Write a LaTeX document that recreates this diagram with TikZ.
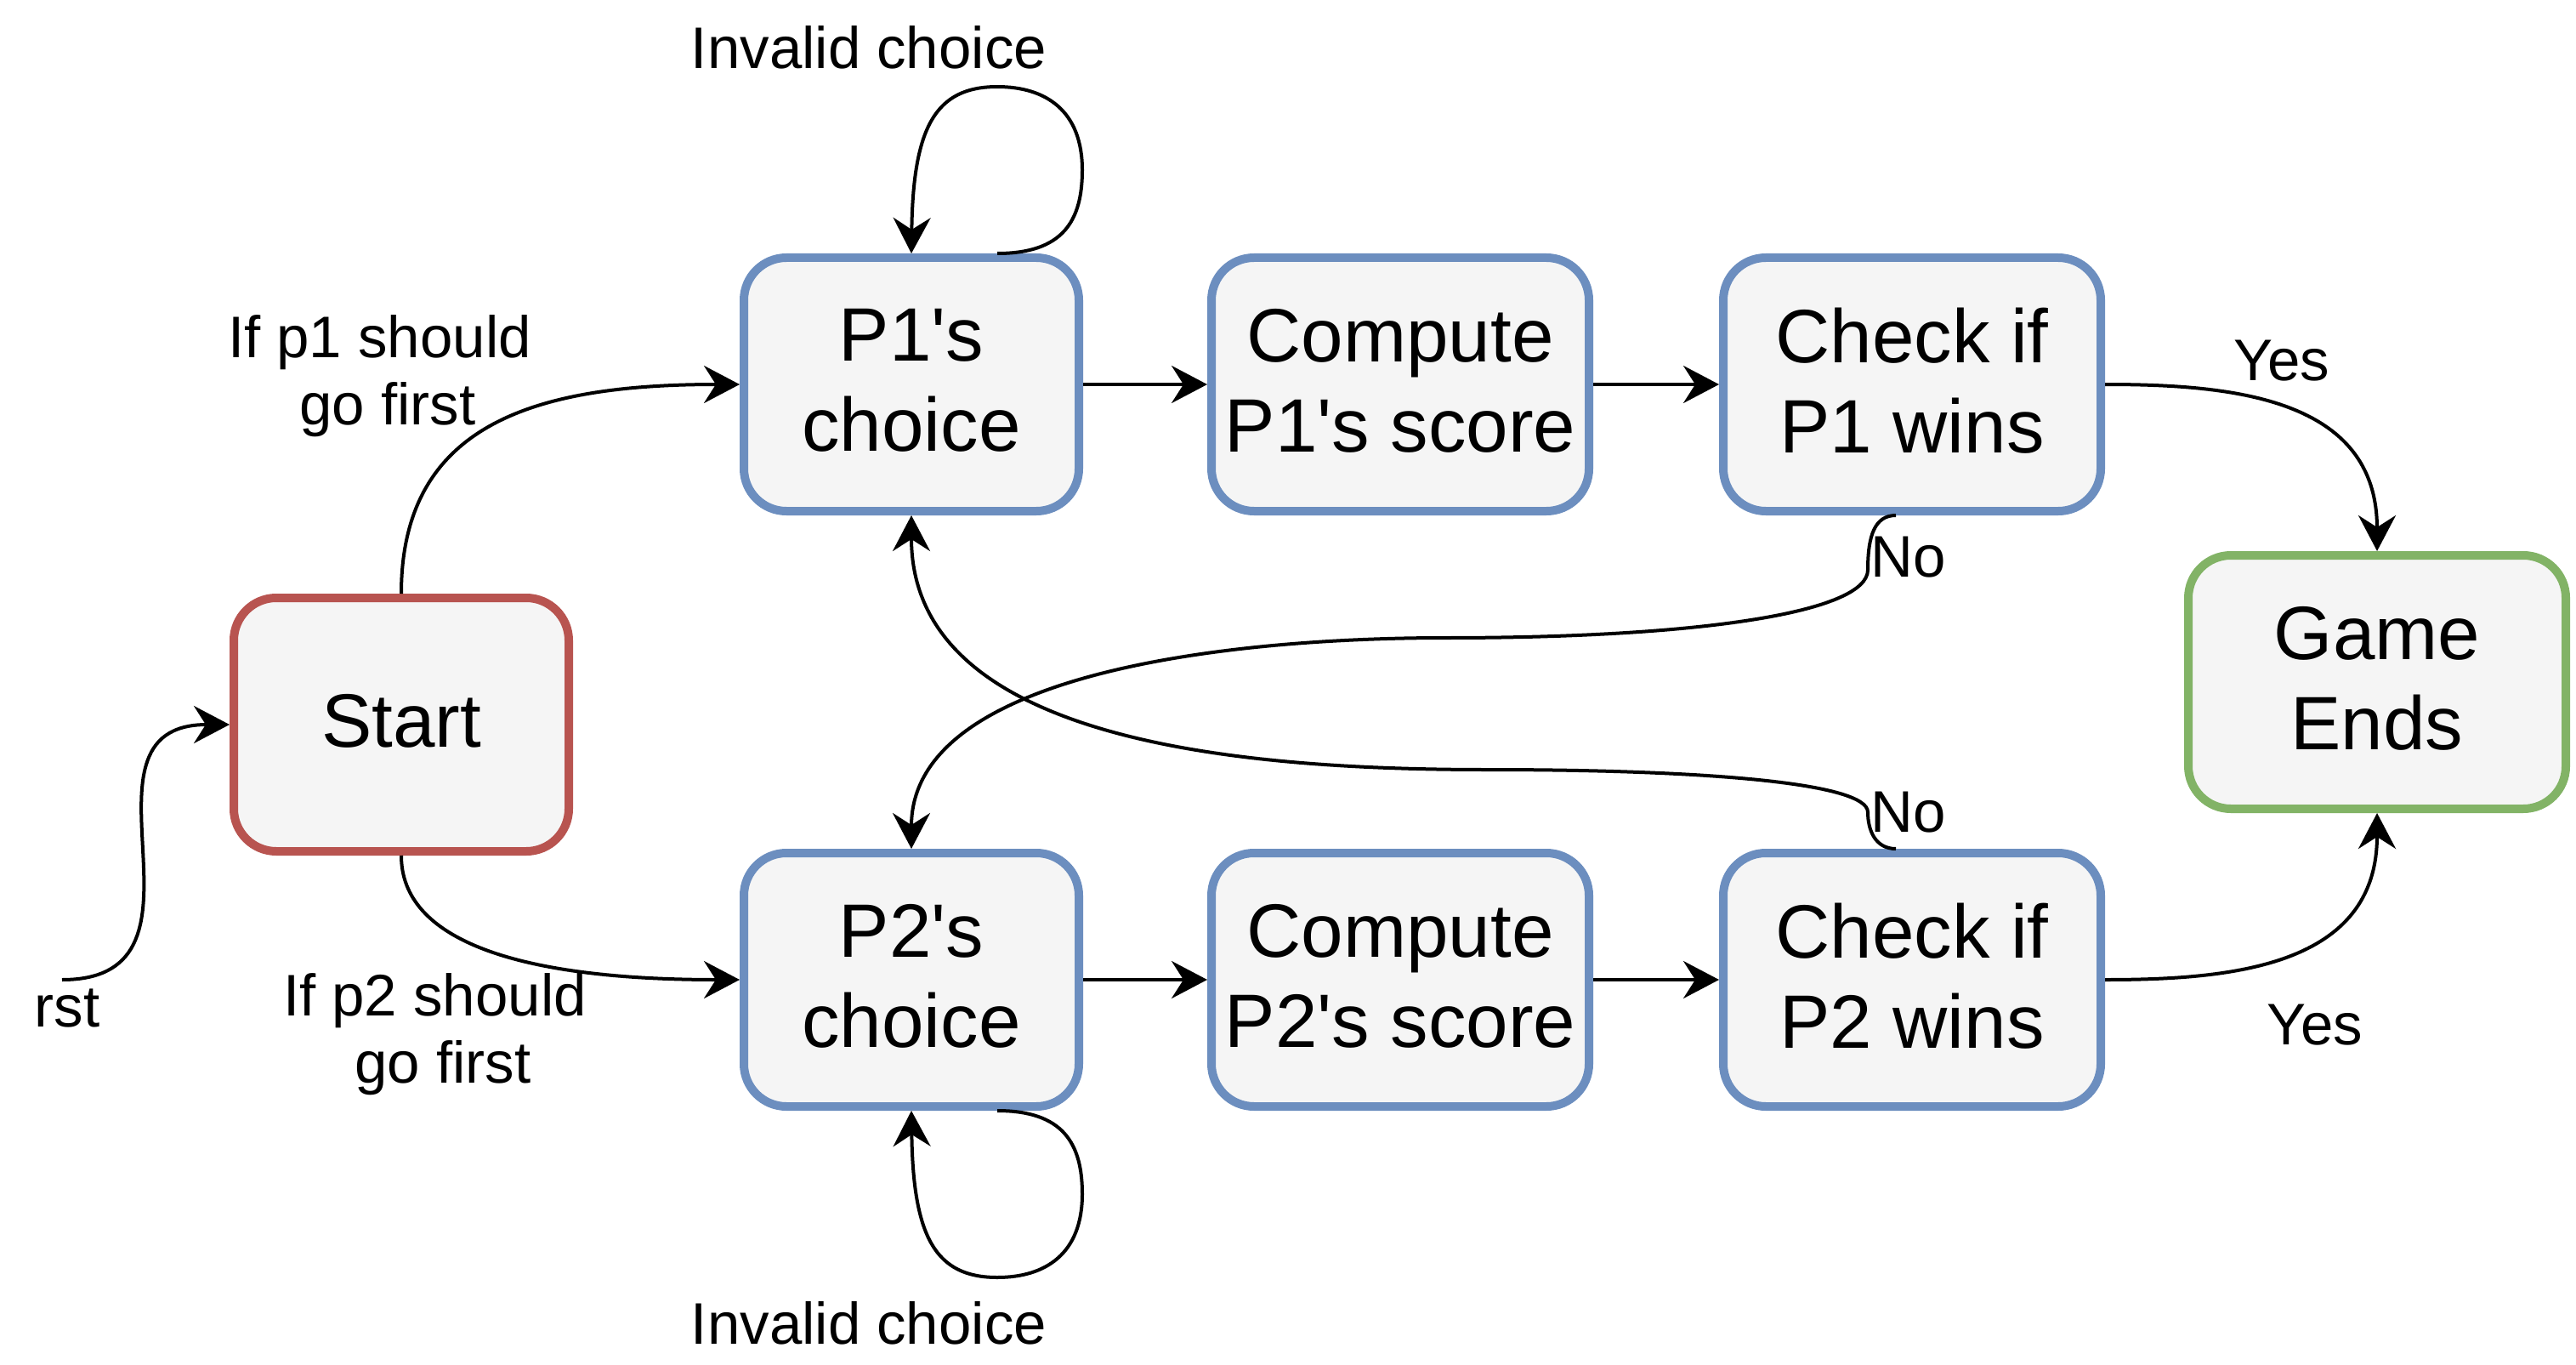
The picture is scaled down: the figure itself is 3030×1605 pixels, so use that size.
\documentclass[tikz,border=0pt]{standalone}
\usepackage{fontspec}
\setmainfont{Liberation Sans}
\usetikzlibrary{arrows.meta,calc}
\definecolor{boxfill}{HTML}{F5F5F5}
\definecolor{bluestroke}{HTML}{6C8EBF}
\definecolor{redstroke}{HTML}{B85450}
\definecolor{greenstroke}{HTML}{82B366}
\newcommand{\aps}{\textquotesingle}
\begin{document}
\begin{tikzpicture}[x=0.25pt,y=-0.25pt,
  state/.style={draw=bluestroke, fill=boxfill, line width=2.5pt, rounded corners=12.5pt,
    minimum height=74.5pt, align=center, inner sep=0pt, text depth=2.5pt,
    font=\fontsize{22.25pt}{26.5pt}\selectfont},
  narrow/.style={state, minimum width=98.5pt},
  wide/.style={state, minimum width=111pt},
  lbl/.style={inner sep=0pt, align=center, font=\fontsize{17.25pt}{19.6pt}\selectfont},
  edge/.style={line width=1pt, -{Stealth[length=10.5pt,width=11pt,inset=3.5pt]}}
]
\useasboundingbox (0,0) rectangle (3030,1605);

% nodes
\node[narrow, draw=redstroke] (start) at (472,852) {Start};
\node[narrow] (p1) at (1072,452) {P1\aps s\\choice};
\node[wide] (c1) at (1647,452) {Compute\\P1\aps s score};
\node[wide] (k1) at (2249,452) {Check if\\P1 wins};
\node[narrow] (p2) at (1072,1152) {P2\aps s\\choice};
\node[wide] (c2) at (1647,1152) {Compute\\P2\aps s score};
\node[wide] (k2) at (2249,1152) {Check if\\P2 wins};
\node[wide, draw=greenstroke] (ge) at (2796,802) {Game\\Ends};

\coordinate (rst) at (73,1152);
\coordinate (l1s) at ($(p1.north)+(101,0)$);
\coordinate (l2s) at ($(p2.south)+(101,0)$);
\coordinate (k1s) at ($(k1.south)+(-19,0)$);
\coordinate (k2n) at ($(k2.north)+(-19,0)$);

% labels
\node[lbl] (lrst) at (79,1186) {rst};
\node[lbl] (lp1) at (456,442) {If p1 should\hspace*{4.8pt}\\go first};
\node[lbl] (lp2) at (521,1216) {If p2 should\hspace*{4.8pt}\\go first};
\node[lbl] (linv1) at (1022,56) {Invalid choice};
\node[lbl] (linv2) at (1022,1556) {Invalid choice};
\node[lbl] (lyes1) at (2684,424) {Yes};
\node[lbl] (lyes2) at (2723,1205) {Yes};

% edges
\draw[edge] (rst) .. controls +(199,0) and +(-199,0) .. (start.west);
\draw[edge] (start.north) .. controls +(0,-200) and +(-240,0) .. (p1.west);
\draw[edge] (start.south) .. controls +(0,100) and +(-260,0) .. (p2.west);
\draw[edge] (p1) -- (c1);
\draw[edge] (c1) -- (k1);
\draw[edge] (p2) -- (c2);
\draw[edge] (c2) -- (k2);
\draw[edge] (k1.east) .. controls +(150,0) and +(0,-180) .. (ge.north);
\draw[edge] (k2.east) .. controls +(150,0) and +(0,180) .. (ge.south);

\draw[edge] (l1s) .. controls (1250,298) and (1273,260) .. (1273,200)
  .. controls (1273,130) and (1230,102) .. (1173,102)
  .. controls (1100,102) and (1074,150) .. (p1.north);
\draw[edge] (l2s) .. controls (1250,1306) and (1273,1344) .. (1273,1404)
  .. controls (1273,1474) and (1230,1502) .. (1173,1502)
  .. controls (1100,1502) and (1074,1454) .. (p2.south);

\draw[edge] (k1s) .. controls (2205,606) and (2197,630) .. (2197,670)
  .. controls (2197,720) and (2000,750) .. (1700,750)
  .. controls (1450,750) and (1072,790) .. (p2.north);
\draw[edge] (k2n) .. controls (2205,998) and (2197,975) .. (2197,955)
  .. controls (2197,920) and (2000,905) .. (1750,905)
  .. controls (1450,905) and (1072,870) .. (p1.south);

\node[lbl] (lno1) at (2245,655) {No};
\node[lbl] (lno2) at (2245,955) {No};
\end{tikzpicture}
\end{document}
